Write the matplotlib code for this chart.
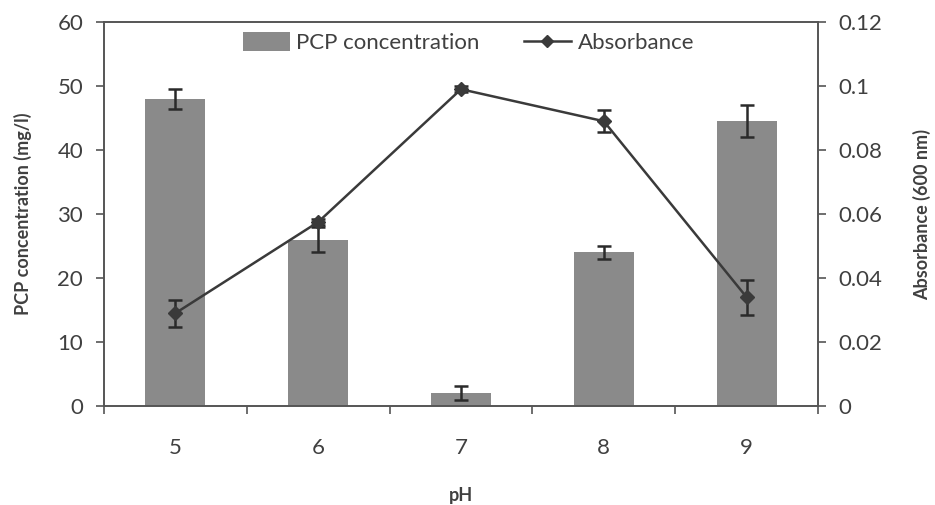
import matplotlib
matplotlib.use("Agg")
import matplotlib.pyplot as plt
import numpy as np
from matplotlib.lines import Line2D
from matplotlib.patches import Patch

plt.rcParams['font.family'] = ['Lato', 'DejaVu Sans']

ph = ["5", "6", "7", "8", "9"]
pcp = [48, 26, 2, 24, 44.5]
pcp_err = [1.6, 2.0, 1.1, 1.0, 2.5]
absorb = [0.029, 0.0575, 0.099, 0.089, 0.034]
absorb_err = [0.0042, 0.001, 0.001, 0.0035, 0.0055]

TXT = '#404040'
FS = 16
fig = plt.figure(figsize=(9.35, 5.05), dpi=100)
ax = fig.add_axes([0.1112, 0.196, 0.7637, 0.7604])
x = np.arange(len(ph))
ax.bar(x, pcp, width=0.42, color='#8a8a8a', zorder=2)
ax.errorbar(x, pcp, yerr=pcp_err, fmt='none', ecolor='#2a2a2a', elinewidth=1.8,
            capsize=5, capthick=1.8, zorder=3)
ax.set_xlim(-0.5, len(ph) - 0.5)
ax.set_ylim(0, 60)
ax.set_yticks(np.arange(0, 61, 10))
ax.set_xticks(x)
ax.set_xticklabels(ph)
ax.set_xticks(np.arange(-0.5, len(ph), 1), minor=True)
ax.tick_params(axis='x', which='major', length=0, pad=23, labelsize=FS, colors=TXT)
ax.tick_params(axis='x', which='minor', length=6, width=1.2, direction='out', color='#555555')
ax.tick_params(axis='y', length=6, width=1.2, direction='out', labelsize=FS,
               colors=TXT, color='#555555', pad=9)
for s in ax.spines.values():
    s.set_color('#555555')
    s.set_linewidth(1.2)
ax.set_xlabel('pH', fontsize=13, fontweight='bold', color=TXT)
ax.xaxis.set_label_coords(0.5, -0.232)
ax.xaxis.label.set_va('center')
ax.set_ylabel('PCP concentration (mg/l)', fontsize=13, fontweight='bold', color=TXT, labelpad=18)

ax2 = ax.twinx()
ax2.errorbar(x, absorb, yerr=absorb_err, color='#3a3a3a', ecolor='#2a2a2a', lw=1.8,
             marker='D', markersize=7, elinewidth=1.8, capsize=5, capthick=1.8, zorder=4)
ax2.set_ylim(0, 0.12)
ax2.set_yticks([0, 0.02, 0.04, 0.06, 0.08, 0.1, 0.12])
ax2.set_yticklabels(['0', '0.02', '0.04', '0.06', '0.08', '0.1', '0.12'])
ax2.tick_params(axis='y', length=6, width=1.2, direction='out', labelsize=FS,
                colors=TXT, color='#555555', pad=9)
for s in ax2.spines.values():
    s.set_color('#555555')
    s.set_linewidth(1.2)
ax2.set_ylabel('Absorbance (600 nm)', fontsize=13, fontweight='bold', color=TXT, labelpad=22)

handles = [Patch(facecolor='#8a8a8a', edgecolor='none'),
           Line2D([0], [0], color='#3a3a3a', lw=1.8, marker='D', markersize=6)]
ax2.legend(handles, ['PCP concentration', 'Absorbance'], loc='upper center',
           bbox_to_anchor=(0.5105, 1.025), ncol=2, frameon=False, fontsize=FS,
           handlelength=2.1, handleheight=0.9, columnspacing=2.0, handletextpad=0.3,
           labelcolor=TXT)

fig.savefig('out.png', dpi=100)
